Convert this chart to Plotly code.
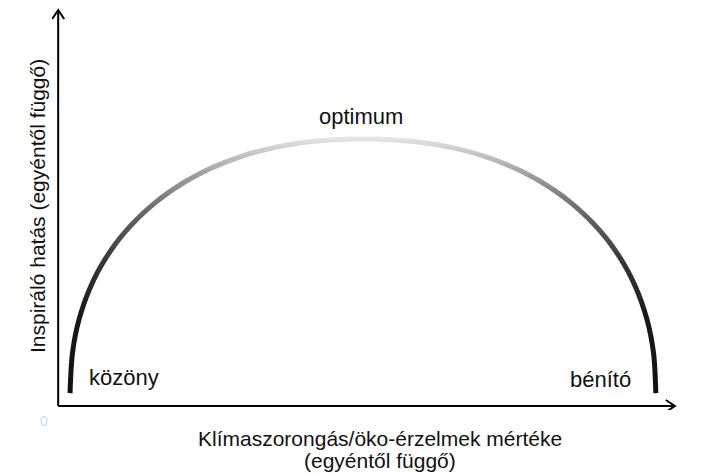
import numpy as np
import plotly.graph_objects as go

# Curve (x: intensity of climate anxiety, y: inspiring effect)
curve_x = [1.94, 2.32, 3.42, 5.24, 7.76, 10.96, 14.78, 19.19, 24.13, 29.59, 35.53, 41.98,
           49.43,
           56.89, 63.34, 69.28, 74.74, 79.68, 84.09, 87.91, 91.11, 93.63, 95.45, 96.55, 96.93]
curve_y = [3.28, 13.36, 22.05, 30.08, 37.45, 44.14, 50.10, 55.25, 59.57, 62.98, 65.43, 66.92,
           67.42,
           66.92, 65.43, 62.98, 59.57, 55.25, 50.10, 44.14, 37.45, 30.08, 22.05, 13.36, 3.28]

label_texts = ["közöny", "optimum", "bénító"]
label_x = [10.6, 49.1, 88.0]
label_y = [7.1, 73.2, 6.6]

x_title = ["Klímaszorongás/öko-érzelmek mértéke", "(egyéntől függő)"]
y_title = "Inspiráló hatás (egyéntől függő)"
origin_label = "0"

FONT = "Liberation Sans, Arial, sans-serif"

W, H = 706, 473
ML, MR, MT, MB = 52, 25, 6, 63
XR = [-1, 101]
YR = [-1, 101]
SX = (W - ML - MR) / (XR[1] - XR[0])   # px per x unit
SY = (H - MT - MB) / (YR[1] - YR[0])   # px per y unit
STROKE = 5.0                            # stroke width in px


def px_to_paper(px, py):
    return (px - ML) / (W - ML - MR), (H - MB - py) / (H - MT - MB)


# build the thick stroke as a filled band (so it can carry a smooth gradient)
cx = np.array(curve_x) * SX
cy = np.array(curve_y) * SY
tx = np.gradient(cx)
ty = np.gradient(cy)
nrm = np.hypot(tx, ty)
nx, ny = -ty / nrm, tx / nrm
outer_x = list((cx + nx * STROKE / 2) / SX)
outer_y = list((cy + ny * STROKE / 2) / SY)
inner_x = list((cx - nx * STROKE / 2) / SX)[::-1]
inner_y = list((cy - ny * STROKE / 2) / SY)[::-1]
# repeat the corner points so the spline keeps the flat, square stroke ends
band_x = ([outer_x[0]] + outer_x + [outer_x[-1]] + [inner_x[0]] + inner_x
          + [inner_x[-1]] + [outer_x[0]])
band_y = ([outer_y[0]] + outer_y + [outer_y[-1]] + [inner_y[0]] + inner_y
          + [inner_y[-1]] + [outer_y[0]])

gray_scale = [[0.0, "rgb(17,17,17)"], [0.3, "rgb(26,26,26)"], [0.5, "rgb(52,52,52)"],
              [0.7, "rgb(102,102,102)"], [0.85, "rgb(158,158,158)"],
              [0.95, "rgb(205,205,205)"], [1.0, "rgb(232,232,232)"]]

fig = go.Figure()
fig.add_trace(go.Scatter(
    x=band_x, y=band_y, mode="lines", fill="toself",
    line=dict(width=0, color="rgba(0,0,0,0)", shape="spline", smoothing=1),
    fillgradient=dict(type="vertical", colorscale=gray_scale,
                      start=min(band_y), stop=max(band_y)),
    showlegend=False, hoverinfo="skip"))

# axes lines with arrow heads
fig.add_shape(type="line", x0=0, y0=0, x1=100, y1=0, xref="x", yref="y",
              line=dict(color="black", width=2))
fig.add_shape(type="line", x0=0, y0=0, x1=0, y1=100, xref="x", yref="y",
              line=dict(color="black", width=2))
fig.add_shape(type="path", xref="x", yref="y", xsizemode="pixel", ysizemode="pixel",
              xanchor=100, yanchor=0, path="M -9 6 L 0 0 L -9 -6",
              line=dict(color="black", width=2))
fig.add_shape(type="path", xref="x", yref="y", xsizemode="pixel", ysizemode="pixel",
              xanchor=0, yanchor=100, path="M -6 -9 L 0 0 L 6 -9",
              line=dict(color="black", width=2))

for t, x, y in zip(label_texts, label_x, label_y):
    fig.add_annotation(x=x, y=y, xref="x", yref="y", text=t, showarrow=False,
                       xanchor="center", yanchor="middle",
                       font=dict(family=FONT, size=22, color="#111111"))

for text, (px, py), ang, size, col in [
        (x_title[0], (380, 438), 0, 21, "#111111"),
        (x_title[1], (380, 461), 0, 21, "#111111"),
        (y_title, (37, 206), -90, 21, "#111111"),
        (origin_label, (44, 421), 0, 14, "#c6ddf0")]:
    ax, ay = px_to_paper(px, py)
    fig.add_annotation(x=ax, y=ay, xref="paper", yref="paper", text=text, showarrow=False,
                       textangle=ang, xanchor="center", yanchor="middle",
                       font=dict(family=FONT, size=size, color=col))

fig.update_xaxes(range=XR, visible=False, showgrid=False, zeroline=False)
fig.update_yaxes(range=YR, visible=False, showgrid=False, zeroline=False)
fig.update_layout(width=W, height=H, margin=dict(l=ML, r=MR, t=MT, b=MB),
                  paper_bgcolor="white", plot_bgcolor="white")

fig.write_html("out.html", config={"displayModeBar": False},
               post_script="document.body.style.margin='0px';")
